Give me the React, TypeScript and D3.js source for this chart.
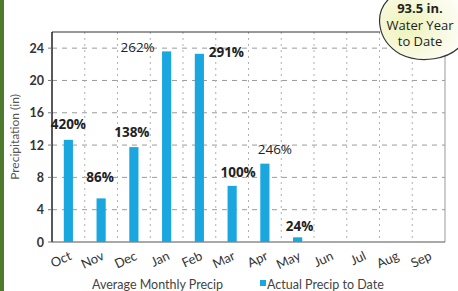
import React, { useEffect, useRef } from 'react';
import * as d3 from 'd3';

const months = ['Oct', 'Nov', 'Dec', 'Jan', 'Feb', 'Mar', 'Apr', 'May', 'Jun', 'Jul', 'Aug', 'Sep'];
const actualPrecip = [12.65, 5.4, 11.75, 23.6, 23.3, 6.95, 9.7, 0.58, 0, 0, 0, null];
const pctLabels = ['420%', '86%', '138%', '262%', '291%', '100%', '246%', '24%', '', '', '', ''];
const yTicks = [0, 4, 8, 12, 16, 20, 24];
const totalLabel = ['93.5 in.', 'Water Year', 'to Date'];

const App: React.FC = () => {
    const ref = useRef<SVGSVGElement | null>(null);

    useEffect(() => {
        if (!ref.current) return;
        const width = 458;
        const height = 291;
        const m = { top: 32, right: 13, bottom: 49, left: 52 };

        const svg = d3.select(ref.current);
        svg.selectAll('*').remove();
        svg.attr('width', width).attr('height', height);

        svg.append('rect').attr('width', width).attr('height', height).attr('fill', '#fff');
        // green edge of the scanned page
        svg.append('rect').attr('x', 0).attr('y', 0).attr('width', 4).attr('height', height).attr('fill', '#4d7a2c');

        const x = d3.scaleBand().domain(months).range([m.left, width - m.right]).paddingInner(0.72).paddingOuter(0.36);
        const step = x.step();
        const y = d3.scaleLinear().domain([0, 26]).range([height - m.bottom, m.top]);

        const grid = svg.append('g');
        // horizontal dashed gridlines
        grid.selectAll('line.h')
            .data(yTicks.filter(d => d > 0))
            .enter()
            .append('line')
            .attr('x1', m.left)
            .attr('x2', width - m.right)
            .attr('y1', d => y(d))
            .attr('y2', d => y(d))
            .attr('stroke', '#9a9a9a')
            .attr('stroke-width', 1)
            .attr('stroke-dasharray', '5,5');
        // vertical dotted gridlines at month boundaries
        grid.selectAll('line.v')
            .data(months.slice(1))
            .enter()
            .append('line')
            .attr('x1', d => x(d)! - (step - x.bandwidth()) / 2)
            .attr('x2', d => x(d)! - (step - x.bandwidth()) / 2)
            .attr('y1', m.top)
            .attr('y2', height - m.bottom)
            .attr('stroke', '#b0b0b0')
            .attr('stroke-width', 1)
            .attr('stroke-dasharray', '2,4');

        // frame
        svg.append('line').attr('x1', width - m.right).attr('x2', width - m.right)
            .attr('y1', m.top).attr('y2', height - m.bottom).attr('stroke', '#999');
        svg.append('line').attr('x1', m.left).attr('x2', 380)
            .attr('y1', m.top).attr('y2', m.top).attr('stroke', '#333').attr('stroke-width', 1.2);
        svg.append('line').attr('x1', m.left).attr('x2', width - m.right)
            .attr('y1', y(0)).attr('y2', y(0)).attr('stroke', '#555').attr('stroke-width', 1.2);
        svg.append('line').attr('x1', m.left).attr('x2', m.left)
            .attr('y1', m.top).attr('y2', y(0)).attr('stroke', '#222').attr('stroke-width', 1.5);

        // bars
        svg.selectAll('rect.bar')
            .data(months.map((mo, i) => ({ mo, v: actualPrecip[i] })).filter(d => d.v !== null && d.v > 0))
            .enter()
            .append('rect')
            .attr('class', 'bar')
            .attr('x', d => x(d.mo)!)
            .attr('y', d => y(d.v as number))
            .attr('width', x.bandwidth())
            .attr('height', d => y(0) - y(d.v as number))
            .attr('fill', '#1aa7e0');

        // y ticks
        svg.selectAll('text.yt')
            .data(yTicks)
            .enter()
            .append('text')
            .attr('x', m.left - 8)
            .attr('y', d => y(d) + 4.5)
            .attr('text-anchor', 'end')
            .style('font-family', 'Lato, sans-serif')
            .style('font-size', '12.5px')
            .style('font-weight', 'bold')
            .style('fill', '#333')
            .text(d => d);
        svg.selectAll('line.ytk')
            .data(yTicks)
            .enter()
            .append('line')
            .attr('x1', m.left - 4)
            .attr('x2', m.left)
            .attr('y1', d => y(d))
            .attr('y2', d => y(d))
            .attr('stroke', '#777');

        svg.append('text')
            .attr('transform', `translate(19, ${(m.top + y(0)) / 2}) rotate(-90)`)
            .attr('text-anchor', 'middle')
            .style('font-family', 'Lato, sans-serif')
            .style('font-size', '12px')
            .style('fill', '#555')
            .text('Precipitation (in)');

        // month labels
        svg.selectAll('text.xt')
            .data(months)
            .enter()
            .append('text')
            .attr('transform', d => `translate(${x(d)! + x.bandwidth() / 2 + 4}, ${y(0) + 17}) rotate(-25)`)
            .attr('text-anchor', 'end')
            .style('font-family', 'Lato, sans-serif')
            .style('font-size', '13px')
            .style('fill', '#333')
            .text(d => d);

        // percent of average labels
        const dx = [0, -1, -2, -29, 27, 6, 10, 2, 0, 0, 0, 0];
        const dy = [11, 16, 10, -1, -3, 9, 10, 6, 0, 0, 0, 0];
        const heavy = [true, true, true, false, true, true, false, true];
        svg.selectAll('text.pct')
            .data(months.map((mo, i) => ({ mo, i, v: actualPrecip[i], t: pctLabels[i] })).filter(d => d.t !== ''))
            .enter()
            .append('text')
            .attr('x', d => x(d.mo)! + x.bandwidth() / 2 + dx[d.i])
            .attr('y', d => y(d.v as number) - dy[d.i])
            .attr('text-anchor', 'middle')
            .style('font-family', '"Open Sans", sans-serif')
            .style('font-size', '13.5px')
            .style('font-weight', d => (heavy[d.i] ? 'bold' : 'normal'))
            .style('fill', '#222')
            .text(d => d.t);

        // legend
        const lg = svg.append('g')
            .style('font-family', 'Lato, sans-serif')
            .style('font-size', '12.5px')
            .style('fill', '#444');
        lg.append('text').attr('x', 92).attr('y', 289).text('Average Monthly Precip');
        lg.append('rect').attr('x', 260).attr('y', 280).attr('width', 6).attr('height', 6).attr('fill', '#1aa7e0');
        lg.append('text').attr('x', 267).attr('y', 289).text('Actual Precip to Date');

        // water year bubble
        const defs = svg.append('defs');
        const grad = defs.append('radialGradient').attr('id', 'bub').attr('cx', '30%').attr('cy', '55%').attr('r', '70%');
        grad.append('stop').attr('offset', '0%').attr('stop-color', '#eef2b8');
        grad.append('stop').attr('offset', '100%').attr('stop-color', '#ffffff');
        svg.append('path')
            .attr('d', 'M380,26 C376,2 400,-16 428,-16 C470,-16 480,20 462,44 C450,60 420,64 400,54 C390,48 382,40 380,26 Z')
            .attr('fill', 'url(#bub)')
            .attr('stroke', '#333')
            .attr('stroke-width', 1.2);
        svg.selectAll('text.bub')
            .data(totalLabel)
            .enter()
            .append('text')
            .attr('x', 420)
            .attr('y', (d, i) => 13 + i * 16.5)
            .attr('text-anchor', 'middle')
            .style('font-family', '"Open Sans", sans-serif')
            .style('font-size', '13px')
            .style('font-weight', (d, i) => (i === 0 ? 'bold' : 'normal'))
            .style('fill', '#222')
            .text(d => d);
    }, []);

    return <svg ref={ref} style={{ position: 'absolute', left: 0, top: 0 }} />;
};

export default App;
